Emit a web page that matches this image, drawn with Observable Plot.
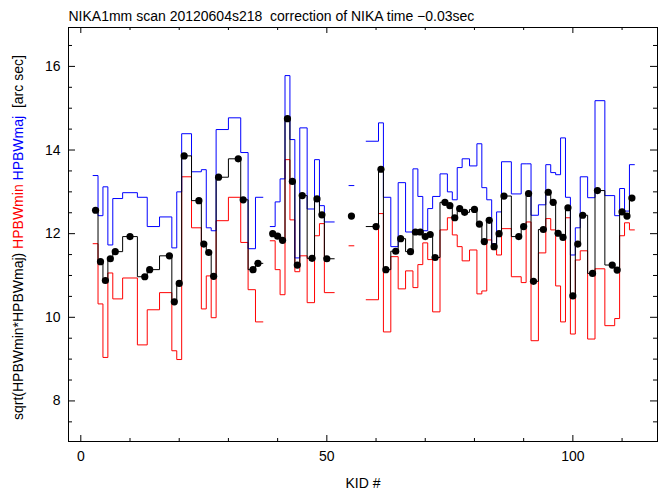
<!DOCTYPE html>
<html><head><meta charset="utf-8">
<script src="https://cdn.jsdelivr.net/npm/d3@7"></script>
<script src="https://cdn.jsdelivr.net/npm/@observablehq/plot@0.6"></script>
<style>html,body{margin:0;padding:0;background:#fff;} #chart{width:670px;height:497px;}</style>
</head><body><div id="chart"></div>
<script>
// KID numbers (null values mark breaks in the traces)
const kids = [3,4,5,6,7,10,13,14,18,19,20,21,24,25,26,27,28,32,33,35,36,38,39,40,41,42,43,44,45,47,48,49,50,53,54,55,56,60,61,62,64,65,67,68,69,70,71,72,74,75,76,77,78,80,81,82,83,84,85,86,89,90,91,92,94,95,96,97,98,99,100,101,102,104,105,108,109,110,111,112];
const hpbwMin = [11.76,10.32,9.04,11.06,10.44,10.94,9.34,10.18,10.59,9.20,8.99,13.36,12.14,10.20,10.99,9.99,12.31,12.87,11.79,10.66,9.89,null,11.83,11.14,10.54,13.77,12.33,11.09,11.47,10.35,11.95,12.24,10.59,null,null,11.71,null,10.42,12.48,9.65,11.45,10.68,11.11,10.71,11.26,11.78,11.38,10.13,12.09,12.38,11.97,11.69,11.35,11.61,10.56,10.63,11.85,11.62,11.49,12.12,10.97,10.83,12.28,9.44,11.54,12.36,12.09,10.75,9.89,12.38,9.60,11.37,11.59,9.48,11.16,9.80,9.97,11.95,12.26,12.09];
const hpbwMaj = [13.39,12.43,13.12,11.73,12.84,12.98,12.87,12.17,12.40,11.66,13.00,14.39,13.48,13.53,12.14,12.07,14.49,14.77,13.94,11.64,12.87,null,12.17,12.76,13.31,15.78,14.25,11.42,14.53,12.59,13.77,12.67,12.28,null,null,13.15,null,14.21,14.65,12.87,11.69,13.22,12.04,13.55,12.89,12.07,12.60,12.89,13.43,13.00,12.81,13.58,13.79,13.62,14.15,13.10,12.81,11.76,12.52,13.72,12.95,13.67,13.67,12.44,12.69,13.65,13.46,13.41,14.29,12.87,11.49,12.14,13.36,12.86,15.18,12.91,12.43,13.08,12.54,13.65];
const hpbwGeo = [12.56,11.33,10.88,11.40,11.57,11.93,10.97,11.14,11.47,10.37,10.81,13.86,12.79,11.75,11.55,10.98,13.35,13.79,12.81,11.14,11.29,null,12.00,11.94,11.84,14.75,13.25,11.25,12.91,11.41,12.83,12.45,11.40,null,null,12.42,null,12.17,13.54,11.14,11.58,11.88,11.57,12.04,12.04,11.93,11.98,11.43,12.75,12.67,12.38,12.60,12.51,12.58,12.23,11.81,12.32,11.69,12.00,12.90,11.93,12.17,12.96,10.86,12.10,12.99,12.75,12.01,11.91,12.62,10.51,11.75,12.44,11.05,13.03,11.25,11.13,12.52,12.42,12.85];

const xTicks = [0, 50, 100];
const xMinorTicks = [10, 20, 30, 40, 60, 70, 80, 90, 110];
const yTicks = [8, 10, 12, 14, 16];
const yMinorTicks = [7.5, 8.5, 9, 9.5, 10.5, 11, 11.5, 12.5, 13, 13.5, 14.5, 15, 15.5, 16.5];
const titleText = "NIKA1mm scan 20120604s218  correction of NIKA time \u22120.03sec";
const xLabel = "KID #";
const yLabelParts = ["sqrt(HPBWmin*HPBWmaj)", "HPBWmin", "HPBWmaj", "[arc sec]"];

const W = 670, H = 497, mL = 68, mR = 13, mT = 27, mB = 56;
const fw = W - mL - mR, fh = H - mT - mB;

function binEdges(i) {
  const k = kids[i];
  const lo = i > 0 ? (kids[i - 1] + k) / 2 : k - (kids[1] - k) / 2;
  const hi = i < kids.length - 1 ? (k + kids[i + 1]) / 2 : k + (k - kids[i - 1]) / 2;
  return [lo, hi];
}
function stepSeries(vals) {
  const pts = [];
  kids.forEach((k, i) => {
    const [lo, hi] = binEdges(i);
    const v = vals[i] == null ? NaN : vals[i];
    pts.push({x: lo, y: v}, {x: hi, y: v});
  });
  return pts;
}
const dots = kids.map((k, i) => ({kid: k, geo: hpbwGeo[i]})).filter(d => d.geo != null);

const svg = Plot.plot({
  width: W, height: H,
  marginLeft: mL, marginRight: mR, marginTop: mT, marginBottom: mB,
  x: {domain: [-2.5, 117.2], axis: null},
  y: {domain: [7.03, 16.93], axis: null},
  style: {fontFamily: "'Liberation Sans', Arial, sans-serif", fontSize: "14px", background: "white", color: "black", overflow: "visible"},
  marks: [
    Plot.line(stepSeries(hpbwMin), {x: "x", y: "y", stroke: "#ff0000", strokeWidth: 1}),
    Plot.line(stepSeries(hpbwMaj), {x: "x", y: "y", stroke: "#0000ff", strokeWidth: 1}),
    Plot.line(stepSeries(hpbwGeo), {x: "x", y: "y", stroke: "black", strokeWidth: 1}),
    Plot.dot(dots, {x: "kid", y: "geo", r: 3.6, fill: "black", stroke: "none"}),
    Plot.frame({stroke: "black", strokeWidth: 1}),
    Plot.tickY(yTicks, {y: d => d, insetRight: fw - 7, stroke: "black"}),
    Plot.tickY(yTicks, {y: d => d, insetLeft: fw - 7, stroke: "black"}),
    Plot.tickY(yMinorTicks, {y: d => d, insetRight: fw - 4, stroke: "black"}),
    Plot.tickY(yMinorTicks, {y: d => d, insetLeft: fw - 4, stroke: "black"}),
    Plot.tickX(xTicks, {x: d => d, insetTop: fh - 6, stroke: "black"}),
    Plot.tickX(xTicks, {x: d => d, insetBottom: fh - 6, stroke: "black"}),
    Plot.tickX(xMinorTicks, {x: d => d, insetTop: fh - 3, stroke: "black"}),
    Plot.tickX(xMinorTicks, {x: d => d, insetBottom: fh - 3, stroke: "black"}),
    Plot.axisY(yTicks, {anchor: "left", tickSize: 0, tickPadding: 8, label: null, fontSize: 14}),
    Plot.axisX(xTicks, {anchor: "bottom", tickSize: 0, tickPadding: 10, label: null, fontSize: 14}),
    Plot.text([titleText], {text: d => d, frameAnchor: "top-left", textAnchor: "start", lineAnchor: "bottom", dy: -7, fontSize: 14}),
    Plot.text([xLabel], {text: d => d, frameAnchor: "bottom", lineAnchor: "bottom", dy: 46, fontSize: 14})
  ]
});

const partColors = ["black", "#ff0000", "#0000ff", "black"];
const partGaps = ["", " ", " ", "  "];
const yl = d3.select(svg).append("text")
  .attr("transform", "translate(23,420) rotate(-90)")
  .attr("font-size", 14)
  .attr("text-anchor", "start")
  .style("white-space", "pre");
yLabelParts.forEach((p, i) => {
  yl.append("tspan").attr("fill", partColors[i]).text(partGaps[i] + p);
});

document.getElementById("chart").appendChild(svg);
</script></body></html>
